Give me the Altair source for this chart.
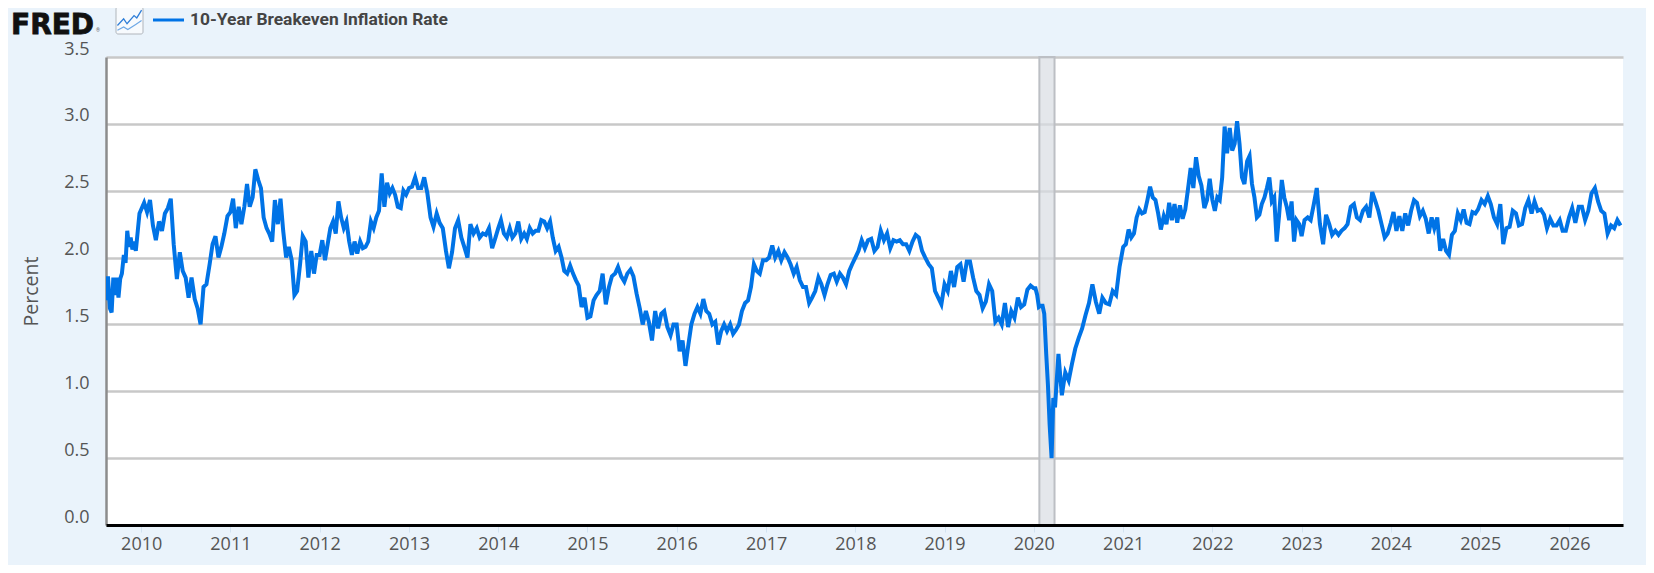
import altair as alt
import pandas as pd

# Each segment: (start year, end year, evenly spaced)
v2009 = [1.68,1.86,1.62,1.59,1.85,1.72,1.85,1.70,1.84,1.88,2.02,1.96,2.20,2.08,2.15,2.06,2.12,2.05,2.20,2.33]
v2010 = [2.36,2.41,2.34,2.43,2.24,2.13,2.27,2.20,2.33,2.37,2.44,2.10,1.84,2.04,1.90,1.85,1.70,1.85,1.69,1.62,1.50,1.78,1.80,1.95,2.10,2.16,2.00,2.08,2.18,2.31]
v2011 = [2.34,2.44,2.22,2.38,2.25,2.38,2.55,2.38,2.45,2.66,2.58,2.52,2.30,2.22,2.18,2.12,2.43,2.25,2.44,2.20,2.00,2.08,1.98,1.72,1.75,1.95,2.16,2.12,1.85,2.05,1.88,2.02]
v2012 = [2.02,2.13,1.98,2.10,2.22,2.27,2.18,2.42,2.30,2.22,2.27,2.12,2.02,2.12,2.03,2.12,2.07,2.08,2.12,2.27,2.22,2.30,2.35,2.63,2.38,2.56,2.48,2.52,2.47,2.38,2.37,2.50,2.47]
v2013 = [2.52,2.53,2.60,2.52,2.52,2.60,2.48,2.30,2.23,2.33,2.26,2.22,2.05,1.92,2.04,2.22,2.28,2.15,2.08,2.00,2.25,2.18,2.22,2.15,2.18,2.17,2.22,2.07,2.14]
v2014 = [2.22,2.28,2.18,2.15,2.22,2.15,2.18,2.27,2.14,2.18,2.14,2.22,2.18,2.20,2.20,2.28,2.27,2.22,2.27,2.15,2.05,2.08,2.00,1.90,1.88,1.94,1.88,1.83,1.79,1.63,1.70]
v2015 = [1.55,1.56,1.68,1.72,1.75,1.88,1.65,1.78,1.86,1.88,1.93,1.86,1.82,1.88,1.91,1.86,1.73,1.62,1.50,1.60,1.52,1.38,1.60,1.47,1.58,1.60,1.48,1.42,1.50]
v2016 = [1.50,1.30,1.38,1.19,1.35,1.50,1.58,1.63,1.58,1.69,1.60,1.58,1.50,1.52,1.35,1.45,1.50,1.45,1.50,1.43,1.46,1.50,1.60,1.66,1.68,1.78,1.95,1.90,1.88,1.98]
v2017 = [1.98,2.00,2.09,2.00,2.05,1.98,2.04,2.00,1.95,1.88,1.93,1.83,1.78,1.78,1.66,1.70,1.75,1.85,1.80,1.72,1.80,1.87,1.88,1.82,1.88,1.85,1.80,1.90,1.95]
v2018 = [2.00,2.05,2.13,2.07,2.13,2.14,2.05,2.08,2.20,2.13,2.18,2.07,2.13,2.12,2.13,2.10,2.10,2.05,2.12,2.17,2.15,2.05,2.00,1.95,1.92,1.75,1.70,1.65]
v2019 = [1.80,1.75,1.90,1.78,1.93,1.95,1.82,1.97,1.97,1.85,1.75,1.72,1.62,1.67,1.80,1.75,1.52,1.55,1.50,1.66,1.48,1.60,1.55,1.70,1.63,1.65,1.76,1.79]
v2020a = [1.77,1.77,1.72,1.63,1.64,1.64,1.58,1.28,1.05,0.75,0.50,0.95]
v2020b = [0.88,1.28,0.97,1.14,1.08,1.21,1.32,1.40,1.47,1.57,1.66,1.80,1.67,1.58,1.70,1.66,1.65,1.75,1.72,1.93]
v2021 = [2.08,2.10,2.21,2.15,2.18,2.30,2.36,2.33,2.34,2.43,2.53,2.45,2.43,2.33,2.21,2.31,2.25,2.41,2.28,2.40,2.26,2.39,2.29,2.36,2.51,2.67,2.52,2.75,2.61,2.54,2.37,2.43,2.59]
v2022 = [2.43,2.35,2.45,2.43,2.60,2.98,2.78,2.97,2.80,2.85,3.02,2.85,2.60,2.55,2.72,2.76,2.55,2.45,2.30,2.32,2.40,2.45,2.52,2.60,2.42,2.45,2.12,2.32,2.58,2.45,2.38,2.28,2.42,2.12,2.28,2.25]
v2023 = [2.16,2.28,2.30,2.28,2.40,2.52,2.25,2.10,2.32,2.25,2.17,2.20,2.17,2.20,2.22,2.25,2.38,2.40,2.30,2.28,2.35,2.38,2.30,2.49,2.42,2.35,2.25,2.15,2.18]
v2024 = [2.26,2.34,2.20,2.31,2.20,2.33,2.24,2.35,2.43,2.41,2.31,2.35,2.29,2.18,2.30,2.22,2.30,2.05,2.14,2.05,2.02,2.17,2.20,2.33,2.28,2.36,2.26,2.25,2.34,2.33]
v2025 = [2.36,2.43,2.40,2.46,2.40,2.30,2.25,2.40,2.10,2.22,2.23,2.35,2.33,2.24,2.25,2.37,2.43,2.33,2.42,2.35,2.36,2.32,2.22,2.29,2.24,2.24,2.28,2.20]
v2026 = [2.20,2.30,2.37,2.26,2.38,2.38,2.28,2.35,2.48,2.52,2.42,2.35,2.33,2.18,2.24,2.22,2.28,2.24]

segments = [
    (2009.61, 2010.0, v2009), (2010.0, 2011.0, v2010), (2011.0, 2012.0, v2011),
    (2012.0, 2013.0, v2012), (2013.0, 2014.0, v2013), (2014.0, 2015.0, v2014),
    (2015.0, 2016.0, v2015), (2016.0, 2017.0, v2016), (2017.0, 2018.0, v2017),
    (2018.0, 2019.0, v2018), (2019.0, 2020.0, v2019), (2020.0, 2020.24, v2020a),
    (2020.24, 2021.0, v2020b), (2021.0, 2022.0, v2021), (2022.0, 2023.0, v2022),
    (2023.0, 2024.0, v2023), (2024.0, 2024.98, v2024), (2024.98, 2025.96, v2025),
    (2025.96, 2026.61, v2026),
]
x_domain = ["2009-08-10", "2026-08-08"]
recession = {"start": ["2020-01-24"], "end": ["2020-03-26"]}
y_ticks = [0.0, 0.5, 1.0, 1.5, 2.0, 2.5, 3.0, 3.5]
series_name = "10-Year Breakeven Inflation Rate"

def to_date(y):
    yr = int(y)
    return pd.Timestamp(year=yr, month=1, day=1) + pd.Timedelta(days=(y - yr) * 365.25)

rows = []
for start, end, vals in segments:
    step = (end - start) / len(vals)
    for i, v in enumerate(vals):
        rows.append({"date": to_date(start + i * step).strftime("%Y-%m-%d"), "value": v})
df = pd.DataFrame(rows)

BLUE = "#0073e6"
TXT = "#555555"
BG = "#eaf3fb"
xscale = alt.Scale(type="utc", domain=x_domain)
yscale = alt.Scale(domain=[0, 3.5], nice=False)
xaxis = alt.Axis(
    format="%Y", tickCount={"interval": "year", "step": 1}, grid=False,
    labelFont="Open Sans", labelFontSize=18, labelColor=TXT, labelPadding=3,
    tickColor="#d3e3f1", tickSize=7, tickWidth=1,
    domainColor="#000000", domainWidth=3, labelOverlap=False, zindex=1,
    labelFlush=False,
)

band = alt.Chart(pd.DataFrame(recession)).mark_rect(
    fill="#d8dde3", fillOpacity=0.7, stroke="#bcbfc4", strokeWidth=2
).encode(
    x=alt.X("start:T", scale=xscale, title=None, axis=xaxis),
    x2="end:T",
)

line = alt.Chart(df).mark_line(color=BLUE, strokeWidth=4, strokeJoin="miter", clip=True).encode(
    x=alt.X("date:T", scale=xscale, title=None, axis=xaxis),
    y=alt.Y("value:Q", scale=yscale, title="Percent", axis=alt.Axis(
        values=y_ticks, format=".1f", grid=True, gridColor="#c8c8c8", gridWidth=2.5,
        ticks=False, labelFont="Open Sans", labelFontSize=18, labelColor=TXT,
        labelPadding=17, labelOffset=-8, domainColor="#8c8c8c", domainWidth=2.5,
        titleFont="Open Sans", titleFontSize=19.5, titleFontWeight="normal", titleColor=TXT,
        titlePadding=22, labelOverlap=False,
    )),
)

def label(text, x, y, baseline="middle", **kw):
    return alt.Chart(pd.DataFrame({"t": [text]})).mark_text(align="left", baseline=baseline, **kw).encode(
        text="t:N", x=alt.value(x), y=alt.value(y))

logo = label("FRED", -95, -23, baseline="alphabetic", font="DejaVu Sans", fontWeight="bold", fontSize=28,
             color="#111111", stroke="#111111", strokeWidth=0.8)
reg = label("®", -10, -27, font="Roboto", fontSize=5, color="#666666")
icon_box = alt.Chart(pd.DataFrame({"a": [0]})).mark_rect(
    fill="#f7fafd", stroke="#b0b5bb", strokeWidth=1, cornerRadius=2
).encode(x=alt.value(10), x2=alt.value(37), y=alt.value(-50), y2=alt.value(-23))
icon_up = alt.Chart(pd.DataFrame({"a": [0]})).mark_point(
    shape="M-0.93,0.38L-0.45,-0.13L-0.19,0.25L0.35,-0.38L0.56,-0.2L0.93,-0.8",
    filled=False, stroke="#2f7ed8", strokeWidth=1.3, size=676, opacity=1
).encode(x=alt.value(23.5), y=alt.value(-36.5))
icon_lo = alt.Chart(pd.DataFrame({"a": [0]})).mark_point(
    shape="M-0.93,0.75L-0.45,0.5L-0.13,0.7L0.48,0.3L0.93,0",
    filled=False, stroke="#6ea8e6", strokeWidth=1.2, size=676, opacity=1
).encode(x=alt.value(23.5), y=alt.value(-36.5))
legend_line = alt.Chart(pd.DataFrame({"a": [0]})).mark_rule(color=BLUE, strokeWidth=3).encode(
    x=alt.value(47), x2=alt.value(78), y=alt.value(-37))
legend_text = label(series_name, 84, -37, font="Roboto", fontWeight="bold", fontSize=17.4, color="#444444")

chart = alt.layer(band, line, logo, reg, icon_box, icon_up, icon_lo, legend_line, legend_text).properties(
    width=1517, height=468,
    background=BG,
    autosize=alt.AutoSizeParams(type="none"),
    padding={"left": 98, "top": 49, "right": 23, "bottom": 40},
).configure_view(fill="#ffffff", stroke=None)

chart.save("out.html", embed_options={"renderer": "svg", "actions": False})
